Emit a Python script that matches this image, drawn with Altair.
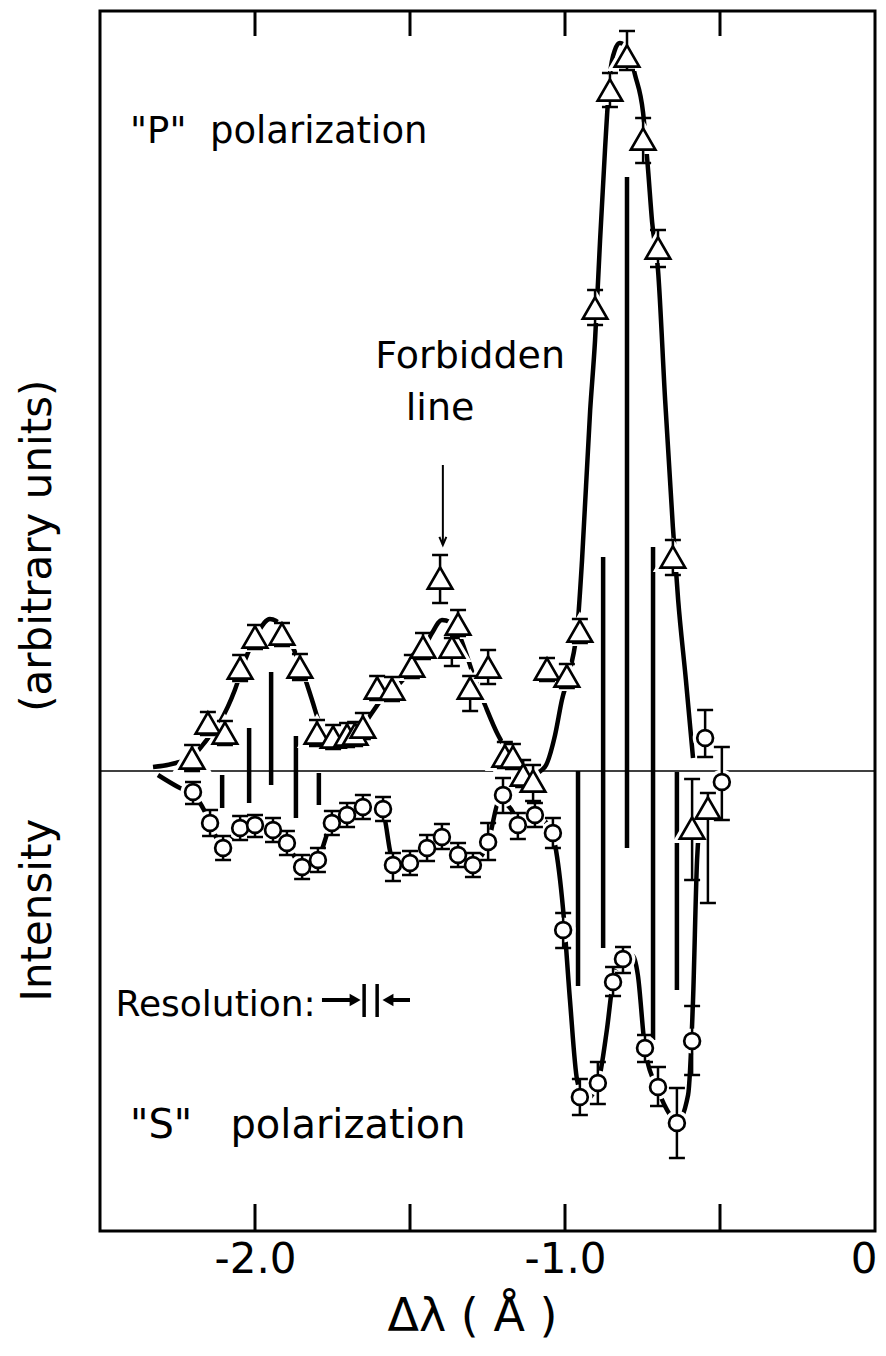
import altair as alt
import pandas as pd

# ---------------- data ----------------
# x: wavelength shift (Angstrom); y: intensity (arbitrary units, 0 = baseline)

# "P" polarization measurements (triangles)
p_x = [-2.203, -2.152, -2.097, -2.048, -2.000, -1.913, -1.855, -1.800, -1.748, -1.703,
       -1.677, -1.652, -1.606, -1.558, -1.494, -1.458, -1.403, -1.365, -1.345, -1.306,
       -1.248, -1.194, -1.168, -1.135, -1.103, -1.058, -0.994, -0.952, -0.903, -0.855,
       -0.800, -0.748, -0.700, -0.652, -0.590, -0.539]
p_y = [1.3, 4.8, 3.8, 10.3, 13.4, 13.7, 10.4, 3.8, 3.4, 3.6,
       3.7, 4.4, 8.3, 8.2, 10.5, 12.4, 19.3, 12.4, 14.7, 8.3,
       10.4, 1.5, 1.4, -0.4, -1.0, 10.2, 9.5, 14.0, 46.3, 68.1,
       71.5, 63.2, 52.3, 21.4, -5.7, -3.7]
p_up = [1.3, 1.1, 1.2, 1.3, 1.2, 1.1, 1.3, 1.3, 1.2, 1.2,
        1.2, 1.4, 1.2, 1.2, 1.1, 1.4, 2.3, 0.9, 1.4, 1.2,
        1.7, 1.4, 1.3, 1.5, 1.6, 1.1, 1.2, 1.2, 1.8, 1.7,
        2.5, 2.1, 1.8, 1.7, 4.9, 1.5]
p_dn = [1.3, 1.2, 1.2, 1.3, 1.2, 1.2, 1.3, 1.3, 1.2, 1.2,
        1.2, 1.2, 1.2, 1.2, 1.2, 1.2, 2.5, 1.9, 1.2, 2.3,
        1.7, 1.2, 1.2, 1.2, 2.0, 1.2, 1.2, 1.2, 1.7, 1.7,
        1.4, 2.4, 1.9, 1.8, 5.2, 9.5]

# "S" polarization measurements (circles)
s_x = [-2.200, -2.145, -2.103, -2.048, -2.000, -1.942, -1.897, -1.848, -1.797, -1.752,
       -1.703, -1.652, -1.587, -1.555, -1.500, -1.445, -1.397, -1.345, -1.297, -1.248,
       -1.200, -1.152, -1.097, -1.039, -1.006, -0.952, -0.894, -0.845, -0.813, -0.742,
       -0.700, -0.639, -0.590, -0.548, -0.494]
s_y = [-2.1, -5.2, -7.7, -5.7, -5.4, -5.9, -7.2, -9.6, -8.9, -5.2,
       -4.4, -3.6, -3.8, -9.4, -9.2, -7.7, -6.6, -8.4, -9.4, -7.1,
       -2.4, -5.4, -4.4, -6.2, -15.9, -32.6, -31.2, -21.1, -18.8, -27.7,
       -31.6, -35.2, -27.0, 3.3, -1.1]
s_up = [1.0, 1.3, 1.2, 1.2, 1.0, 1.2, 1.2, 1.2, 1.2, 1.2,
        1.2, 1.2, 1.2, 1.2, 1.2, 1.3, 1.3, 1.2, 1.2, 1.9,
        1.7, 1.2, 1.2, 1.5, 1.7, 1.8, 2.1, 1.5, 1.2, 1.3,
        2.0, 3.5, 3.5, 2.8, 3.5]
s_dn = [1.2, 1.3, 1.2, 1.2, 1.2, 1.2, 1.2, 1.2, 1.2, 1.2,
        1.2, 1.2, 1.2, 1.6, 1.2, 1.3, 1.2, 1.2, 1.2, 1.8,
        1.8, 1.4, 1.2, 1.5, 1.8, 1.8, 2.1, 1.4, 1.4, 1.4,
        1.9, 3.5, 3.4, 1.9, 3.8]

# hand-drawn curve through the "P" data
pc_x = [-2.329, -2.255, -2.203, -2.161, -2.113, -2.065, -2.032, -1.990, -1.952, -1.913,
        -1.881, -1.848, -1.816, -1.790, -1.758, -1.710, -1.661, -1.623, -1.581, -1.532,
        -1.494, -1.458, -1.429, -1.397, -1.371, -1.345, -1.323, -1.290, -1.258, -1.216,
        -1.177, -1.135, -1.097, -1.065, -1.032, -1.010, -0.984, -0.958, -0.945, -0.919,
        -0.903, -0.887, -0.871, -0.855, -0.839, -0.823, -0.797, -0.774, -0.748, -0.732,
        -0.719, -0.700, -0.677, -0.652, -0.635, -0.610, -0.587]
pc_y = [0.4, 0.8, 1.4, 2.9, 4.9, 8.1, 11.1, 13.9, 15.2, 14.5,
        12.6, 10.1, 7.1, 4.6, 3.3, 3.3, 4.1, 5.8, 7.6, 8.8,
        10.3, 12.1, 13.8, 15.1, 14.9, 13.9, 12.1, 9.1, 6.6, 3.6,
        1.6, 0.3, -0.2, 0.4, 3.6, 7.1, 10.1, 15.1, 21.1, 36.0,
        43.1, 53.0, 62.1, 69.6, 72.1, 72.8, 72.1, 69.6, 65.8, 60.1,
        54.9, 50.1, 37.1, 24.4, 17.1, 9.1, 1.3]

# hand-drawn curve through the "S" data
sc_x = [-2.313, -2.242, -2.200, -2.161, -2.129, -2.103, -2.074, -2.048, -2.000, -1.942,
        -1.897, -1.848, -1.797, -1.752, -1.703, -1.652, -1.613, -1.587, -1.565, -1.555,
        -1.500, -1.445, -1.397, -1.345, -1.297, -1.248, -1.210, -1.177, -1.145, -1.097,
        -1.055, -1.032, -1.006, -0.984, -0.961, -0.935, -0.894, -0.865, -0.845, -0.813,
        -0.784, -0.765, -0.742, -0.700, -0.661, -0.639, -0.603, -0.587, -0.574, -0.568]
sc_y = [-0.4, -1.7, -2.3, -4.1, -6.4, -7.7, -6.7, -5.7, -5.3, -5.9,
        -7.2, -9.5, -8.7, -5.2, -4.4, -3.5, -3.4, -4.1, -7.9, -9.4,
        -9.2, -7.7, -6.6, -8.4, -9.2, -7.1, -2.9, -3.7, -5.1, -4.4,
        -5.4, -7.4, -13.9, -22.9, -30.9, -32.9, -31.2, -25.9, -21.1, -18.7,
        -18.4, -20.4, -27.7, -31.9, -34.4, -35.2, -32.4, -22.9, -8.9, -5.9]

# vertical stick lines (upper and lower ends)
st_x = [-2.106, -2.019, -1.948, -1.868, -1.794, -0.958, -0.877, -0.800, -0.716, -0.639]
st_top = [-0.4, 4.3, 9.9, 3.5, -0.2, 0.0, 21.4, 59.4, 22.4, -0.1]
st_bot = [-3.7, -3.2, -1.4, -4.7, -3.4, -21.5, -17.7, -7.7, -26.9, -21.9]

# axis ticks and labels
tick_vals = [-2.0, -1.5, -1.0, -0.5]
label_vals = [-2.0, -1.0, 0.0]

# annotations (position in data units)
ann_left = pd.DataFrame({
    "x": [-2.403, -2.403, -2.450],
    "y": [62.8, -36.7, -24.5],
    "t": ["\"P\"\u00a0\u00a0polarization", "\"S\"\u00a0\u00a0\u00a0polarization", "Resolution:"],
    "fs": [37, 40, 36],
})
ann_center = pd.DataFrame({
    "x": [-1.306, -1.403],
    "y": [40.3, 35.1],
    "t": ["Forbidden", "line"],
})
arrow_x = -1.394
arrow_y0, arrow_y1 = 30.6, 22.6

# resolution symbol: arrows and two bars
res_y = -22.9
res_shaft = pd.DataFrame({"x": [-1.784, -1.555], "x2": [-1.690, -1.500]})
res_heads = pd.DataFrame({"x": [-1.677, -1.571], "shape": ["triangle-right", "triangle-left"]})
res_bars = pd.DataFrame({"x": [-1.648, -1.606], "y": [-21.3, -21.3], "y2": [-24.6, -24.6]})

# ---------------- chart ----------------
W, H = 775, 1220
XS = alt.Scale(domain=[-2.5, 0.0], nice=False, zero=False)
YS = alt.Scale(domain=[-46.0, 76.0], nice=False, zero=False)
FONT = "DejaVu Sans"

x_axis = alt.Axis(
    values=label_vals,
    labelExpr="datum.value == 0 ? '0' : '-' + format(abs(datum.value), '.1f')",
    ticks=False, domain=False, grid=False,
    labelFont=FONT, labelFontSize=42, labelColor="black", labelPadding=8,
    labelFlush=True, labelFlushOffset=2,
    title="Δλ\u00a0(\u00a0Å\u00a0)", titleFont=FONT, titleFontSize=46, titleFontWeight="normal",
    titleColor="black", titleX=372, titleY=99, titleAlign="center", titleBaseline="alphabetic",
)
y_axis = alt.Axis(
    labels=False, ticks=False, domain=False, grid=False,
    title="Intensity" + "\u00a0" * 8 + "(arbitrary units)",
    titleFont=FONT, titleFontSize=42, titleFontWeight="normal", titleColor="black",
    titleX=-50, titleY=679, titleAngle=270, titleAlign="center", titleBaseline="alphabetic",
)

pdf = pd.DataFrame({"x": p_x, "y": p_y,
                    "lo": [a - b for a, b in zip(p_y, p_dn)],
                    "hi": [a + b for a, b in zip(p_y, p_up)]})
sdf = pd.DataFrame({"x": s_x, "y": s_y,
                    "lo": [a - b for a, b in zip(s_y, s_dn)],
                    "hi": [a + b for a, b in zip(s_y, s_up)]})
pcdf = pd.DataFrame({"x": pc_x, "y": pc_y})
scdf = pd.DataFrame({"x": sc_x, "y": sc_y})
stdf = pd.DataFrame({"x": st_x, "top": st_top, "bot": st_bot})
tdf = pd.DataFrame({"x": tick_vals})


def X(field="x"):
    return alt.X(f"{field}:Q", scale=XS, axis=x_axis)


def Y(field="y"):
    return alt.Y(f"{field}:Q", scale=YS, axis=y_axis)


baseline = alt.Chart(pd.DataFrame({"y": [0.0]})).mark_rule(color="black", strokeWidth=1.5).encode(
    y=Y())

sticks = alt.Chart(stdf).mark_rule(color="black", strokeWidth=4.5).encode(
    x=X(), y=Y("top"), y2="bot")

p_curve = alt.Chart(pcdf).mark_line(color="black", strokeWidth=4.5, interpolate="monotone").encode(
    x=X(), y=Y())
s_curve = alt.Chart(scdf).mark_line(color="black", strokeWidth=4.5, interpolate="monotone").encode(
    x=X(), y=Y())


def errbars(df):
    rule = alt.Chart(df).mark_rule(color="black", strokeWidth=2.5).encode(x=X(), y=Y("lo"), y2="hi")
    cap_hi = alt.Chart(df).mark_tick(color="black", orient="horizontal", size=16, thickness=2.5,
                                     opacity=1).encode(x=X(), y=Y("hi"))
    cap_lo = alt.Chart(df).mark_tick(color="black", orient="horizontal", size=16, thickness=2.5,
                                     opacity=1).encode(x=X(), y=Y("lo"))
    return rule + cap_hi + cap_lo


def markers(df, shape, size, color, width):
    return alt.Chart(df).mark_point(shape=shape, size=size, filled=True, fill="white",
                                    stroke=color, strokeWidth=width, opacity=1).encode(x=X(), y=Y())


# white halos break the curves around the symbols, as in the hand-drawn original
p_halo = markers(pdf, "triangle-up", 600, "white", 9)
s_halo = markers(sdf, "circle", 250, "white", 9)
p_pts = markers(pdf, "triangle-up", 600, "black", 2.7)
s_pts = markers(sdf, "circle", 250, "black", 2.7)

ticks_bottom = alt.Chart(tdf).mark_rule(color="black", strokeWidth=3).encode(
    x=X(), y=alt.value(H), y2=alt.value(H - 27))
ticks_top = alt.Chart(tdf).mark_rule(color="black", strokeWidth=3).encode(
    x=X(), y=alt.value(0), y2=alt.value(25))

text_left = alt.Chart(ann_left).mark_text(align="left", baseline="alphabetic", font=FONT,
                                          color="black").encode(
    x=X(), y=Y(), text="t:N", size=alt.Size("fs:Q", scale=None, legend=None))
text_center = alt.Chart(ann_center).mark_text(align="center", baseline="alphabetic", font=FONT,
                                              fontSize=38, color="black").encode(
    x=X(), y=Y(), text="t:N")

arrow_df = pd.DataFrame({"x": [arrow_x], "y": [arrow_y0], "y2": [arrow_y1]})
arrow_shaft = alt.Chart(arrow_df).mark_rule(color="black", strokeWidth=2).encode(
    x=X(), y=Y(), y2="y2")
arrow_head = alt.Chart(arrow_df).mark_point(
    shape="M-0.55,-1.3L0,0L0.55,-1.3", size=160, filled=False, stroke="black",
    strokeWidth=2, opacity=1).encode(x=X(), y=Y("y2"))

res_shaft_c = alt.Chart(res_shaft).transform_calculate(yv=str(res_y)).mark_rule(
    color="black", strokeWidth=4).encode(x=X(), x2="x2", y=Y("yv"))
res_heads_c = alt.Chart(res_heads).transform_calculate(yv=str(res_y)).mark_point(
    filled=True, color="black", size=160, opacity=1).encode(
    x=X(), y=Y("yv"), shape=alt.Shape("shape:N", scale=None, legend=None))
res_bars_c = alt.Chart(res_bars).mark_rule(color="black", strokeWidth=3.5).encode(
    x=X(), y=Y(), y2="y2")

chart = alt.layer(
    baseline, sticks, p_curve, s_curve, p_halo, s_halo,
    errbars(pdf), errbars(sdf), p_pts, s_pts,
    ticks_bottom, ticks_top, text_left, text_center,
    arrow_shaft, arrow_head, res_shaft_c, res_heads_c, res_bars_c,
).properties(
    width=W, height=H,
    padding={"left": 92, "top": 3, "right": 3, "bottom": 114},
    autosize=alt.AutoSizeParams(type="none"),
    background="white",
).configure_view(stroke="black", strokeWidth=3)

chart.save("out.html", embed_options={"renderer": "svg", "actions": False})
